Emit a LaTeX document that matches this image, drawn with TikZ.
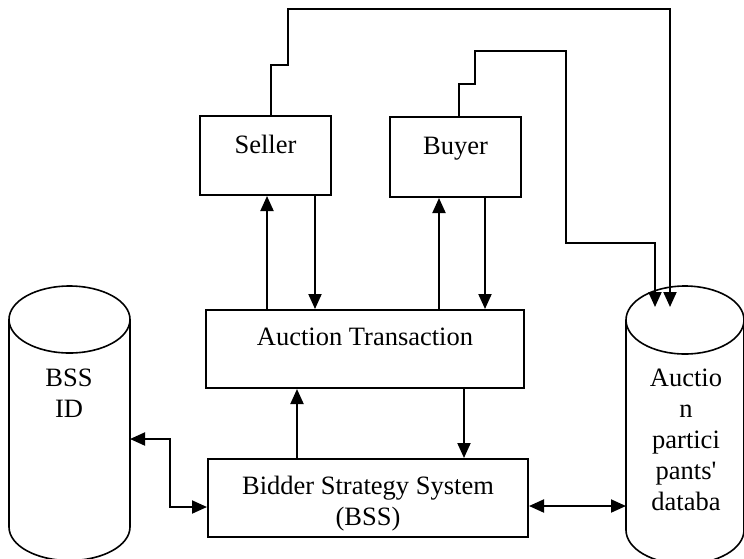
\documentclass[tikz,border=0pt]{standalone}
\usepackage{fontspec}
\newfontfamily\lib{Liberation Serif}
\usetikzlibrary{arrows.meta,calc}
\begin{document}
\begin{tikzpicture}[x=1pt,y=-1pt,
  box/.style={draw, line width=2pt, inner xsep=0pt, inner ysep=0pt, anchor=north, font=\lib\fontsize{26.5}{31}\selectfont},
  lbl/.style={inner sep=0pt, font=\lib\fontsize{26.5}{31}\selectfont, align=center},
  cyl/.style={line width=1.6pt},
  conn/.style={line width=2pt},
  arr/.style={conn, -{Triangle[length=15pt,width=13pt]}},
  darr/.style={conn, {Triangle[length=15pt,width=13pt]}-{Triangle[length=15pt,width=13pt]}},
]
\useasboundingbox (0,0) rectangle (744,558);

% boxes
\node[box, minimum width=131pt, text height=37pt, text depth=42pt] (seller) at (265.5,115) {Seller};
\node[box, minimum width=131pt, text height=37pt, text depth=43pt] (buyer) at (455.5,116) {Buyer};
\node[box, minimum width=318pt, text height=35pt, text depth=43pt] (auction) at (365,309) {Auction Transaction};
\node[box, minimum width=320pt, minimum height=78pt] (bss) at (368,458) {};
\node[lbl, anchor=base] (bsstext) at (368,525) {Bidder Strategy System\\(BSS)};

% cylinders
\draw[cyl] (69.5,319.5) ellipse [x radius=60.5pt, y radius=33.5pt];
\draw[cyl] (9,319.5) -- (9,527) arc[start angle=180, end angle=360, x radius=60.5pt, y radius=33.5pt] -- (130,319.5);
\draw[cyl] (685,320) ellipse [x radius=59pt, y radius=34pt];
\draw[cyl] (626,320) -- (626,530) arc[start angle=180, end angle=360, x radius=59pt, y radius=34pt] -- (744,320);
\node[lbl, anchor=base] (bssid) at (69,417) {BSS\\ID};
\node[lbl, anchor=base] (apdb) at (686,510) {Auctio\\n\\partici\\pants'\\databa};

\coordinate (L1) at (130,439);
\coordinate (R1) at (626,506);
\coordinate (Rt1) at (670,307);
\coordinate (Rt2) at (655,307);

% connectors
\draw[arr] (auction.north -| 267,0) -- (seller.south -| 267,0);
\draw[arr] (seller.south -| 315,0) -- (auction.north -| 315,0);
\draw[arr] (auction.north -| 439,0) -- (buyer.south -| 439,0);
\draw[arr] (buyer.south -| 485,0) -- (auction.north -| 485,0);
\draw[arr] (bss.north -| 297,0) -- (auction.south -| 297,0);
\draw[arr] (auction.south -| 464,0) -- (bss.north -| 464,0);
\draw[darr] (L1) -- (170,439) -- (170,507) -- (bss.west |- 0,507);
\draw[darr] (bss.east |- 0,506) -- (R1);
\draw[arr] (seller.north -| 271,0) -- (271,65) -- (288,65) -- (288,9) -- (670,9) -- (Rt1);
\draw[arr] (buyer.north -| 459,0) -- (459,84) -- (475,84) -- (475,51) -- (566,51) -- (566,243) -- (655,243) -- (Rt2);
\end{tikzpicture}
\end{document}
